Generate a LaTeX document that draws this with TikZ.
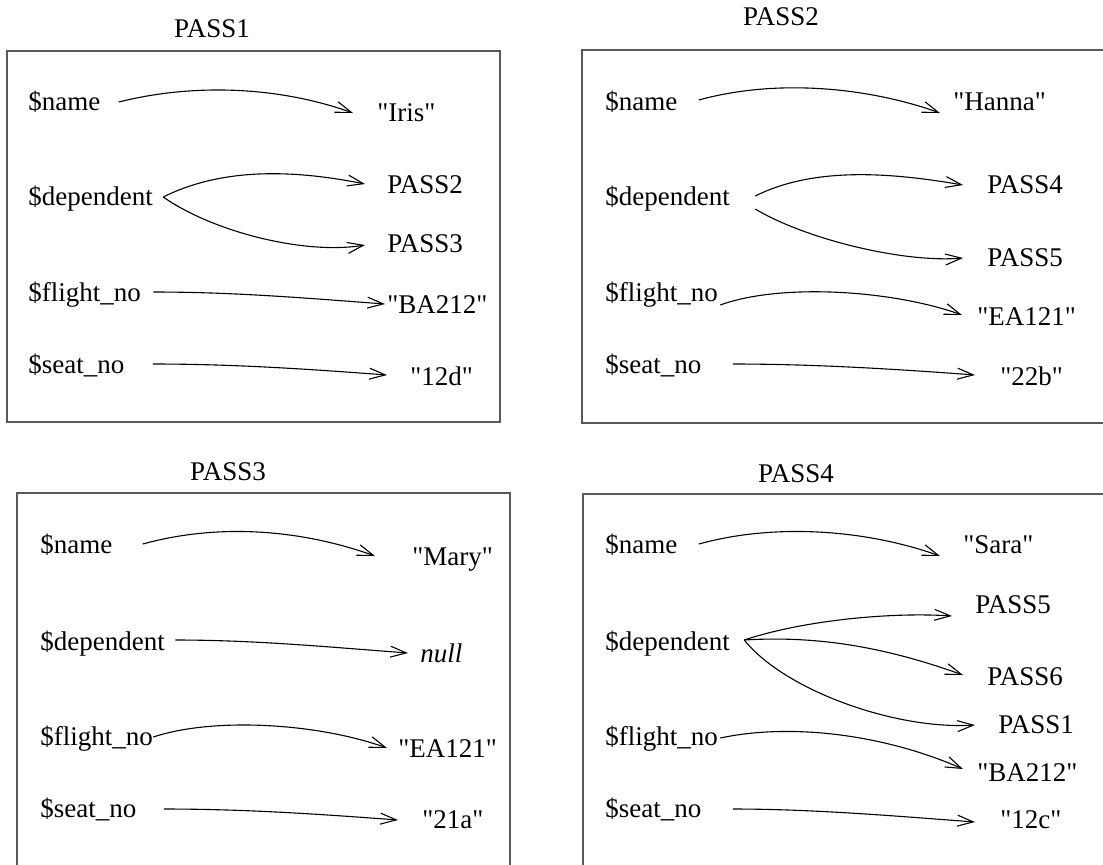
\documentclass[tikz,border=0pt]{standalone}
\usepackage{fontspec}
\setmainfont{Liberation Serif}
\usetikzlibrary{arrows.meta}

% straight quotes round a string value
\newcommand\strval[1]{\textquotedbl#1\textquotedbl}

\tikzset{
  field/.style={anchor=base west, inner sep=0pt, text height=0.75em, text depth=0.25em},
  title/.style={anchor=base, inner sep=0pt},
  record/.style={draw=black!65, line width=0.8pt},
  ptr/.style={-{Straight Barb[length=8pt,width=5.5pt]}, line width=0.55pt},
}

\begin{document}
\begin{tikzpicture}[x=0.5pt,y=0.5pt,font=\fontsize{13.5}{16}\selectfont]
\useasboundingbox (0,0) rectangle (1103,-864);
\clip (0,0) rectangle (1103,-864);

% record PASS1
\node[title] (t1) at (212,-37) {PASS1};
\draw[record] (7,-51) rectangle (500,-422);
\node[field] (name1)   at (28,-110) {\$name};
\node[field] (dep1)    at (28,-205) {\$dependent};
\node[field] (flight1) at (28,-301) {\$flight\_no};
\node[field] (seat1)   at (28,-373) {\$seat\_no};
\node[field] (val1n)   at (377,-121) {\strval{Iris}};
\node[field] (val1a)   at (387,-193) {PASS2};
\node[field] (val1b)   at (387,-252) {PASS3};
\node[field] (val1f)   at (387,-313) {\strval{BA212}};
\node[field] (val1s)   at (410,-385) {\strval{12d}};
\draw[ptr] ([shift={(18,3)}]name1.east) .. controls +(80,20) and +(-70,25) .. ([shift={(-24,3)}]val1n.west);
\draw[ptr] ([shift={(10,3)}]dep1.east) .. controls +(60,30) and +(-70,14) .. ([shift={(-22,4)}]val1a.west);
\draw[ptr] ([shift={(10,3)}]dep1.east) .. controls +(50,-35) and +(-60,-10) .. ([shift={(-22,2)}]val1b.west);
\draw[ptr] ([shift={(12,4)}]flight1.east) .. controls +(80,0) and +(-80,6) .. ([shift={(-2,4)}]val1f.west);
\draw[ptr] ([shift={(28,4)}]seat1.east) .. controls +(80,0) and +(-80,6) .. ([shift={(-23,5)}]val1s.west);

% record PASS2
\node[title] (t2) at (781,-25) {PASS2};
\draw[record] (582,-50) rectangle (1120,-423);
\node[field] (name2)   at (605,-110) {\$name};
\node[field] (dep2)    at (605,-205) {\$dependent};
\node[field] (flight2) at (605,-301) {\$flight\_no};
\node[field] (seat2)   at (605,-373) {\$seat\_no};
\node[field] (val2n)   at (953,-110) {\strval{Hanna}};
\node[field] (val2a)   at (987,-193) {PASS4};
\node[field] (val2b)   at (987,-266) {PASS5};
\node[field] (val2f)   at (977,-325) {\strval{EA121}};
\node[field] (val2s)   at (1000,-385) {\strval{22b}};
\draw[ptr] ([shift={(21,5)}]name2.east) .. controls +(80,22) and +(-70,25) .. ([shift={(-13,-8)}]val2n.west);
\draw[ptr] ([shift={(25,4)}]dep2.east) .. controls +(60,30) and +(-70,12) .. ([shift={(-24,3)}]val2a.west);
\draw[ptr] ([shift={(25,-9)}]dep2.east) .. controls +(50,-30) and +(-60,-5) .. ([shift={(-24,3)}]val2b.west);
\draw[ptr] ([shift={(2,-9)}]flight2.east) .. controls +(60,22) and +(-70,25) .. ([shift={(-15,5)}]val2f.west);
\draw[ptr] ([shift={(31,4)}]seat2.east) .. controls +(80,0) and +(-80,6) .. ([shift={(-25,5)}]val2s.west);

% record PASS3
\node[title] (t3) at (228,-480) {PASS3};
\draw[record] (17,-493) rectangle (510,-880);
\node[field] (name3)   at (40,-553) {\$name};
\node[field] (dep3)    at (40,-650) {\$dependent};
\node[field] (flight3) at (40,-745) {\$flight\_no};
\node[field] (seat3)   at (40,-817) {\$seat\_no};
\node[field] (val3n)   at (412,-565) {\strval{Mary}};
\node[field] (val3d)   at (420,-662) {\textit{null}};
\node[field] (val3f)   at (398,-757) {\strval{EA121}};
\node[field] (val3s)   at (422,-828) {\strval{21a}};
\draw[ptr] ([shift={(30,4)}]name3.east) .. controls +(80,22) and +(-70,25) .. ([shift={(-37,4)}]val3n.west);
\draw[ptr] ([shift={(10,5)}]dep3.east) .. controls +(80,0) and +(-80,6) .. ([shift={(-12,4)}]val3d.west);
\draw[ptr] ([shift={(0,3)}]flight3.east) .. controls +(60,20) and +(-70,25) .. ([shift={(-11,4)}]val3f.west);
\draw[ptr] ([shift={(27,3)}]seat3.east) .. controls +(80,0) and +(-80,6) .. ([shift={(-24,3)}]val3s.west);

% record PASS4
\node[title] (t4) at (796,-482) {PASS4};
\draw[record] (583,-494) rectangle (1120,-880);
\node[field] (name4)   at (605,-553) {\$name};
\node[field] (dep4)    at (605,-650) {\$dependent};
\node[field] (flight4) at (605,-745) {\$flight\_no};
\node[field] (seat4)   at (605,-817) {\$seat\_no};
\node[field] (val4n)   at (963,-553) {\strval{Sara}};
\node[field] (val4a)   at (975,-613) {PASS5};
\node[field] (val4b)   at (987,-685) {PASS6};
\node[field] (val4c)   at (998,-733) {PASS1};
\node[field] (val4f)   at (977,-781) {\strval{BA212}};
\node[field] (val4s)   at (1000,-828) {\strval{12c}};
\draw[ptr] ([shift={(21,4)}]name4.east) .. controls +(80,22) and +(-70,25) .. ([shift={(-23,-8)}]val4n.west);
\draw[ptr] ([shift={(14,5)}]dep4.east) .. controls +(60,20) and +(-60,4) .. ([shift={(-23,-8)}]val4a.west);
\draw[ptr] ([shift={(14,5)}]dep4.east) .. controls +(80,5) and +(-70,25) .. ([shift={(-24,5)}]val4b.west);
\draw[ptr] ([shift={(14,5)}]dep4.east) .. controls +(40,-50) and +(-80,-5) .. ([shift={(-23,3)}]val4c.west);
\draw[ptr] ([shift={(2,2)}]flight4.east) .. controls +(70,15) and +(-80,35) .. ([shift={(-14,7)}]val4f.west);
\draw[ptr] ([shift={(31,3)}]seat4.east) .. controls +(80,0) and +(-80,6) .. ([shift={(-25,1)}]val4s.west);
\end{tikzpicture}
\end{document}
